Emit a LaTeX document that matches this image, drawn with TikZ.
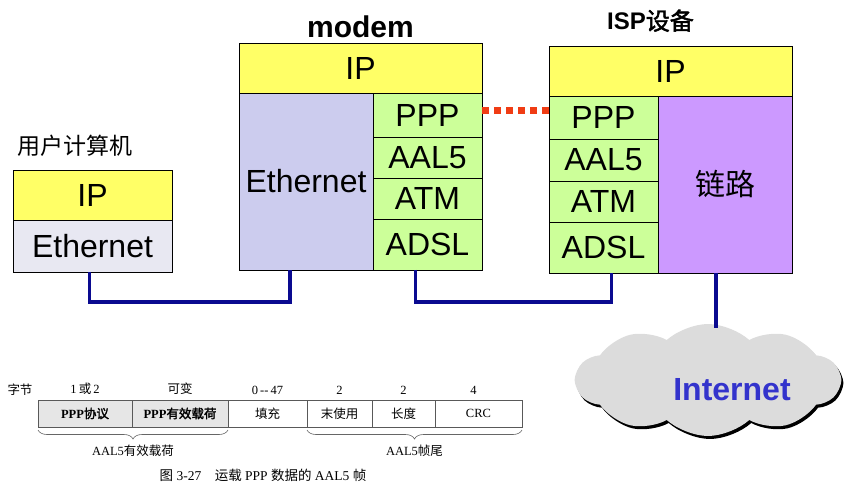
\documentclass[tikz,border=0pt]{standalone}
\usepackage{fontspec}
\setmainfont{Liberation Sans}
\newfontfamily\cjk[AutoFakeBold=2]{Noto Sans CJK SC}
\newfontfamily\bookfont{Liberation Serif}
\usepackage{tikz}
\usetikzlibrary{positioning,shapes.symbols,shadows,decorations.pathreplacing}
\usepackage{xcolor}
\definecolor{IPYellow}{HTML}{FFFF66}
\definecolor{Lavender}{HTML}{CCCCEE}
\definecolor{PaleLav}{HTML}{E8E8F2}
\definecolor{LinkGreen}{HTML}{CCFF99}
\definecolor{Violet}{HTML}{CC99FF}
\definecolor{Cable}{HTML}{0A0A90}
\definecolor{DotRed}{HTML}{F03C14}
\definecolor{NetBlue}{HTML}{3333CC}
\definecolor{CloudGray}{HTML}{DCDCDC}
\definecolor{FieldGray}{HTML}{E6E6E6}
\tikzset{
  layer/.style={draw=black, line width=0.8pt, inner sep=0pt, outer sep=0pt, anchor=north west, align=center, font=\fontsize{32}{32}\selectfont},
  iplayer/.style={layer, fill=IPYellow},
  ethlayer/.style={layer, fill=Lavender},
  linklayer/.style={layer, fill=LinkGreen, minimum width=109pt},
  routelayer/.style={layer, fill=Violet},
  devtitle/.style={inner sep=0pt, font=\bfseries\fontsize{30}{30}\selectfont},
  cable/.style={line width=3.5pt, draw=Cable},
  pppdots/.style={line width=7pt, draw=DotRed, dash pattern=on 7pt off 5pt},
  field/.style={draw=black!65, line width=0.6pt, inner sep=0pt, outer sep=0pt, anchor=north west, minimum height=27pt, font=\bookfont\fontsize{12.5}{13}\selectfont},
  fieldgray/.style={field, fill=FieldGray},
  bytes/.style={inner sep=0pt, above=5pt, font=\bookfont\fontsize{12.5}{13}\selectfont},
  brace/.style={draw=black!60, line width=0.6pt, decorate, decoration={brace, mirror, amplitude=9pt}}
}
\newcommand{\zh}[1]{{\cjk #1}}

\begin{document}
\begin{tikzpicture}[x=1pt, y=-1pt]
\useasboundingbox (0,0) rectangle (857,486);
% user computer
\node[iplayer, minimum width=159pt, minimum height=50pt] (uip) at (13,170) {IP};
\node[layer, fill=PaleLav, minimum width=159pt, minimum height=52pt] (ueth) at (uip.south west) {Ethernet};
\node[inner sep=0pt, anchor=south west, font=\cjk\fontsize{23}{23}\selectfont] (utitle) at ([xshift=4pt, yshift=13pt]uip.north west) {用户计算机};
% modem
\node[iplayer, minimum width=243pt, minimum height=50pt] (mip) at (239,43) {IP};
\node[ethlayer, minimum width=134pt, minimum height=177pt] (meth) at (mip.south west) {Ethernet};
\node[linklayer, minimum height=44pt] (mppp) at (meth.north east) {PPP};
\node[linklayer, minimum height=41pt] (maal) at (mppp.south west) {AAL5};
\node[linklayer, minimum height=41pt] (matm) at (maal.south west) {ATM};
\node[linklayer, minimum height=51pt] (madsl) at (matm.south west) {ADSL};
\node[devtitle, above=5pt of mip] (mtitle) {modem};
% ISP
\node[iplayer, minimum width=243pt, minimum height=50pt] (iip) at (549,46) {IP};
\node[linklayer, minimum height=43pt] (ippp) at (iip.south west) {PPP};
\node[linklayer, minimum height=42pt] (iaal) at (ippp.south west) {AAL5};
\node[linklayer, minimum height=41pt] (iatm) at (iaal.south west) {ATM};
\node[linklayer, minimum height=51pt] (iadsl) at (iatm.south west) {ADSL};
\node[routelayer, minimum width=134pt, minimum height=177pt, font=\cjk\fontsize{30}{30}\selectfont] (ilink) at (ippp.north east) {链路};
\node[devtitle, above=14pt of iip, xshift=-20pt, font=\bfseries\fontsize{24}{24}\selectfont] (ititle) {ISP\zh{设备}};
% internet cloud
\node[cloud, cloud puffs=10, cloud puff arc=85, cloud ignores aspect, fill=CloudGray, inner sep=0pt, minimum width=264pt, minimum height=112pt, general shadow={fill=black, shadow xshift=2pt, shadow yshift=-3pt}] (net) at (708,380) {};
\node[inner sep=0pt, text=NetBlue, font=\bfseries\fontsize{32}{32}\selectfont] (nettext) at ([xshift=24pt, yshift=-10pt]net.center) {Internet};
% cables
\coordinate (linkdrop) at ([xshift=-9pt]ilink.south);
\draw[cable] ([xshift=-3pt]ueth.south) -- ++(0,30) -| ([xshift=-16pt]meth.south);
\draw[cable] ([xshift=-12pt]madsl.south) -- ++(0,32) -| ([xshift=8pt]iadsl.south);
\draw[cable] (linkdrop) -- ([yshift=-4pt]linkdrop |- net.north);
\draw[pppdots] ([yshift=4pt]mppp.east) -- ([yshift=4pt]mppp.east -| ippp.west);
% AAL5 frame
\node[fieldgray, minimum width=94pt, font=\bookfont\bfseries\fontsize{12.5}{13}\selectfont] (fproto) at (38,400) {PPP{\cjk\bfseries 协议}};
\node[fieldgray, minimum width=96pt, font=\bookfont\bfseries\fontsize{12.5}{13}\selectfont] (fload) at (fproto.north east) {PPP{\cjk\bfseries 有效载荷}};
\node[field, minimum width=79pt] (fpad) at (fload.north east) {\zh{填充}};
\node[field, minimum width=65pt] (funused) at (fpad.north east) {\zh{末使用}};
\node[field, minimum width=63pt] (flen) at (funused.north east) {\zh{长度}};
\node[field, minimum width=87pt] (fcrc) at (flen.north east) {CRC};
\node[bytes] (bproto) at (fproto.north) {1\,\zh{或}\,2};
\node[bytes] (bload) at (fload.north) {\zh{可变}};
\node[bytes] (bpad) at (fpad.north) {0\,--\,47};
\node[bytes] (bunused) at (funused.north) {2};
\node[bytes] (blen) at (flen.north) {2};
\node[bytes, xshift=-5pt] (bcrc) at (fcrc.north) {4};
\node[inner sep=0pt, font=\cjk\fontsize{12.5}{13}\selectfont] (bunit) at (20,390) {字节};
\draw[brace] ([yshift=-3pt]fproto.south west) -- ([yshift=-3pt]fload.south east) node[midway, below=15pt, inner sep=0pt, font=\bookfont\fontsize{12.5}{13}\selectfont] {AAL5\zh{有效载荷}};
\draw[brace] ([yshift=-3pt]funused.south west) -- ([yshift=-3pt]fcrc.south east) node[midway, below=15pt, inner sep=0pt, font=\bookfont\fontsize{12.5}{13}\selectfont] {AAL5\zh{帧尾}};
\node[inner sep=0pt, font=\bookfont\fontsize{13.5}{14}\selectfont] (caption) at (263,475) {\zh{图} 3-27\quad\zh{运载} PPP \zh{数据的} AAL5 \zh{帧}};
\end{tikzpicture}
\end{document}
